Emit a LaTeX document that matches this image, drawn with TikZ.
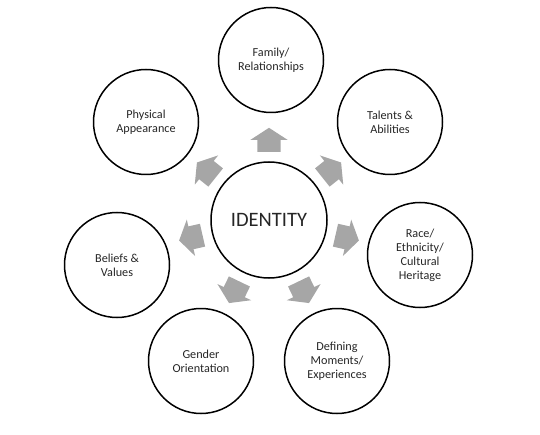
\documentclass[tikz,border=0pt]{standalone}
\usepackage{fontspec}
\setmainfont{Carlito}
\usepackage{tikz}
\usetikzlibrary{shapes.arrows}
\definecolor{idGray}{HTML}{A6A6A6}
\definecolor{idText}{HTML}{262626}

\begin{document}
\begin{tikzpicture}[
  x=1pt,y=1pt,
  hub/.style={circle,draw=black,line width=1.5pt,minimum size=116pt,inner sep=0pt,text=idText,font=\fontsize{20.5}{24}\selectfont},
  facet/.style={circle,draw=black,line width=1.5pt,minimum size=105pt,inner sep=0pt,align=center,text=idText,font=\fontsize{12.2}{14}\selectfont},
  outarrow/.style={single arrow,fill=idGray,draw=none,inner sep=0pt,minimum height=24pt,single arrow head extend=7pt,single arrow tip angle=114,anchor=tail}
]
\useasboundingbox (0,0) rectangle (540,434);
\node[hub] (id) at (269,214) {IDENTITY};
% outer circles
\node[facet] (fam) at (271,374) {Family/\\Relationships};
\node[facet] (tal) at (390,312) {Talents \&\\Abilities};
\node[facet] (race) at (420,179) {Race/\\Ethnicity/\\Cultural\\Heritage};
\node[facet] (def) at (337,73) {Defining\\Moments/\\Experiences};
\node[facet] (gen) at (201,73) {Gender\\Orientation};
\node[facet] (bel) at (117,169) {Beliefs \&\\Values};
\node[facet] (phys) at (146,312) {Physical\\Appearance};
% gray block arrows
\foreach \ang/\nm in {90/afam,38.57/atal,-12.86/arace,-64.29/adef,-115.71/agen,192.86/abel,141.43/aphys}
  \node[outarrow,rotate=\ang] (\nm) at ([shift={(\ang:68)}]id.center) {\rule{0pt}{23pt}};
\end{tikzpicture}
\end{document}
